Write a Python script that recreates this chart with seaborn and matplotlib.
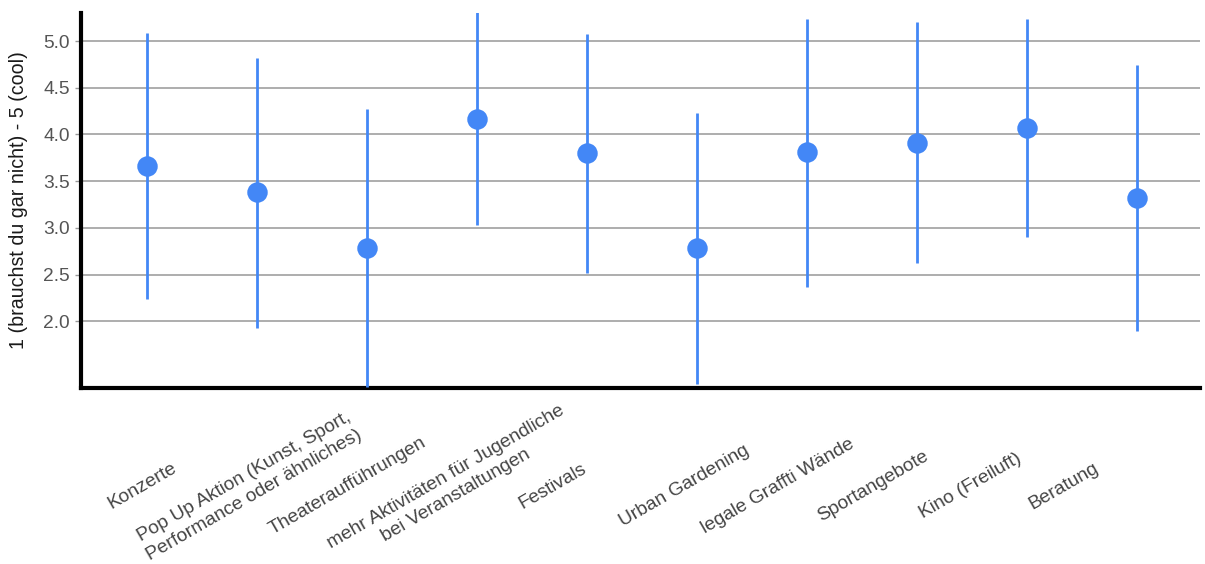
import matplotlib
matplotlib.use("Agg")
import matplotlib.pyplot as plt
import matplotlib.transforms as mtransforms
import seaborn as sns
import pandas as pd

categories = [
    "Konzerte",
    "Pop Up Aktion (Kunst, Sport,\nPerformance oder ähnliches)",
    "Theateraufführungen",
    "mehr Aktivitäten für Jugendliche\nbei Veranstaltungen",
    "Festivals",
    "Urban Gardening",
    "legale Graffti Wände",
    "Sportangebote",
    "Kino (Freiluft)",
    "Beratung",
]
means = [3.66, 3.38, 2.78, 4.17, 3.80, 2.78, 3.81, 3.91, 4.07, 3.32]
lower = [2.24, 1.93, 1.29, 3.03, 2.52, 1.33, 2.37, 2.62, 2.90, 1.89]
upper = [5.09, 4.82, 4.27, 5.31, 5.08, 4.23, 5.24, 5.20, 5.24, 4.74]
y_ticks = [2.0, 2.5, 3.0, 3.5, 4.0, 4.5, 5.0]
y_label = "1 (brauchst du gar nicht) - 5 (cool)"

# label placement offsets (pixels, style only)
label_dx = [-5, -8, -19, -26, -34, -13, -29, -44, -57, -74]

df = pd.DataFrame({"cat": categories, "mean": means, "lo": lower, "hi": upper})

sns.set_theme(style="white")
plt.rcParams["font.family"] = ["Liberation Sans", "DejaVu Sans"]

fig = plt.figure(figsize=(12.05, 5.64), dpi=100)
ax = fig.add_axes([81 / 1205, 1 - 388 / 564, (1200 - 81) / 1205, (388 - 12.5) / 564])

color = "#4387f6"
ax.vlines(x=range(len(categories)), ymin=df["lo"], ymax=df["hi"], color=color,
          linewidth=2.0, zorder=3)
sns.pointplot(data=df, x="cat", y="mean", order=categories, color=color,
              linestyle="none", markers="o", errorbar=None, ax=ax,
              markersize=12.7, zorder=4)
for coll in ax.collections:
    coll.set_zorder(4)
for ln in ax.lines:
    ln.set_zorder(4)

ax.set_ylim(1.284, 5.307)
ax.set_xlim(-0.6, 9.57)
ax.set_yticks(y_ticks)
ax.set_yticklabels([f"{v:.1f}" for v in y_ticks], fontsize=13.8, color="#555555")
ax.yaxis.grid(True, color="#a0a0a0", linewidth=1.2)
ax.xaxis.grid(False)
ax.set_axisbelow(True)

for s in ["top", "right"]:
    ax.spines[s].set_visible(False)
for s in ["left", "bottom"]:
    ax.spines[s].set_color("black")
    ax.spines[s].set_linewidth(3.0)

ax.tick_params(axis="y", length=4, width=1, color="#999999", pad=4, left=True)
ax.tick_params(axis="x", length=0, pad=0)

ax.set_xlabel("")
ax.set_ylabel(y_label, fontsize=14.1, color="#1a1a1a")
ax.yaxis.set_label_coords(-0.047, 0.5)

ax.set_xticks(range(len(categories)))
labels = ax.set_xticklabels(categories, rotation=30, fontsize=13.8, color="#444444",
                            ha="center", va="center", rotation_mode="anchor",
                            multialignment="center", linespacing=1.3)
for lab, dx in zip(labels, label_dx):
    off = mtransforms.ScaledTranslation(dx / 100, -98 / 100, fig.dpi_scale_trans)
    lab.set_transform(lab.get_transform() + off)

fig.savefig("out.png", dpi=100)
